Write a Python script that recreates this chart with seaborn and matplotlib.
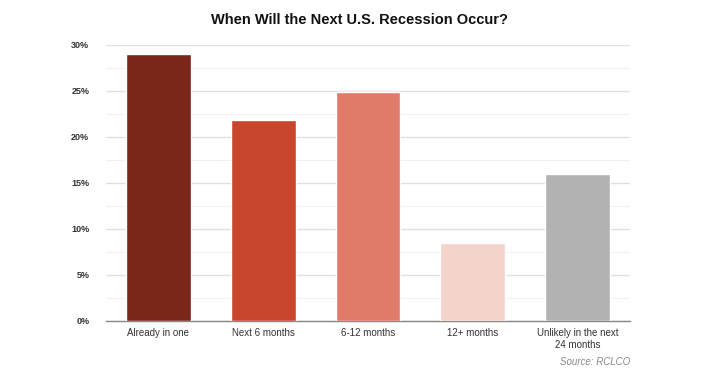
import matplotlib
matplotlib.use("Agg")
import matplotlib.pyplot as plt
import seaborn as sns
import pandas as pd
from matplotlib.ticker import MultipleLocator, FuncFormatter

categories = ["Already in one", "Next 6 months", "6-12 months", "12+ months", "Unlikely in the next\n24 months"]
values = [29.0, 21.8, 24.9, 8.5, 16.0]
colors = ["#79271a", "#c9462c", "#e07b6a", "#f4d3cb", "#b2b2b2"]

sns.set_theme(style="white")
plt.rcParams['font.family'] = ['Liberation Sans', 'DejaVu Sans']

df = pd.DataFrame({"cat": categories, "val": values})
fig = plt.figure(figsize=(7.19, 3.84), dpi=100)
ax = fig.add_axes([106/719, 1-321/384, 524/719, 276/384])
sns.barplot(data=df, x="cat", y="val", hue="cat", palette=colors, legend=False,
            width=0.62, ax=ax, zorder=3, saturation=1)
ax.set_xlim(-0.5, 4.5)
ax.set_ylim(0, 30)
ax.yaxis.set_major_locator(MultipleLocator(5))
ax.yaxis.set_minor_locator(MultipleLocator(2.5))
ax.yaxis.set_major_formatter(FuncFormatter(lambda v, p: f"{int(v)}%"))
ax.grid(axis="y", which="major", color="#e0e0e0", linewidth=1, zorder=0)
ax.grid(axis="y", which="minor", color="#f0f0f0", linewidth=0.8, zorder=0)
for s in ["top", "right", "left"]:
    ax.spines[s].set_visible(False)
ax.spines["bottom"].set_color("#888888")
ax.spines["bottom"].set_linewidth(1)
ax.set_xlabel("")
ax.set_ylabel("")
ax.tick_params(axis="y", labelsize=6.5, colors="#333333", length=0, pad=12)
ax.tick_params(axis="x", labelsize=7, colors="#333333", length=0, pad=5)
for lab in ax.get_yticklabels():
    lab.set_fontweight("bold")
fig.text(0.5, 1-20/384, "When Will the Next U.S. Recession Occur?", ha="center", va="center",
         fontsize=10.5, fontweight="bold", color="#111111")
fig.text(630/719, 1-362/384, "Source: RCLCO", ha="right", va="center", fontsize=7,
         style="italic", color="#888888")
fig.savefig("out.png", dpi=100)
